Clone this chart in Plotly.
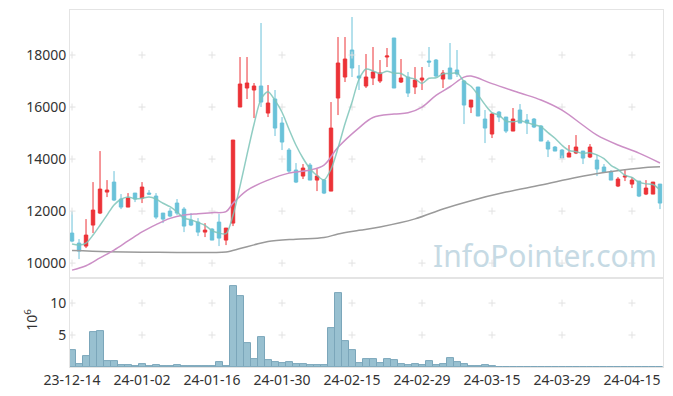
import plotly.graph_objects as go

dates = ["23-12-14","23-12-15","23-12-18","23-12-19","23-12-20","23-12-21","23-12-22","23-12-26","23-12-27","23-12-28",
"24-01-02","24-01-03","24-01-04","24-01-05","24-01-08","24-01-09","24-01-10","24-01-11","24-01-12","24-01-15",
"24-01-16","24-01-17","24-01-18","24-01-19","24-01-22","24-01-23","24-01-24","24-01-25","24-01-26","24-01-29",
"24-01-30","24-01-31","24-02-01","24-02-02","24-02-05","24-02-06","24-02-07","24-02-08","24-02-13","24-02-14",
"24-02-15","24-02-16","24-02-19","24-02-20","24-02-21","24-02-22","24-02-23","24-02-26","24-02-27","24-02-28",
"24-02-29","24-03-04","24-03-05","24-03-06","24-03-07","24-03-08","24-03-11","24-03-12","24-03-13","24-03-14",
"24-03-15","24-03-18","24-03-19","24-03-20","24-03-21","24-03-22","24-03-25","24-03-26","24-03-27","24-03-28",
"24-03-29","24-04-01","24-04-02","24-04-03","24-04-04","24-04-05","24-04-08","24-04-09","24-04-11","24-04-12",
"24-04-15","24-04-16","24-04-17","24-04-18","24-04-19"]

opens = [11154,10769,10654,11462,11923,12731,13115,12462,12154,12692,
12500,12692,12577,11923,12000,12308,12077,11654,11577,11192,
11308,11577,10885,11538,16000,16731,16654,16808,15769,16308,
15385,14346,13577,13346,13769,13192,13192,12769,16346,17154,
18192,17192,16808,17115,17000,17923,18654,16962,17154,16769,
17038,17769,17808,17077,17500,17423,17000,16000,16769,15538,
14962,15808,15615,15077,15885,15500,15538,15269,14654,14462,
14346,14077,14231,14308,14077,13962,13692,13500,12962,13308,
13038,13154,12654,12654,13038]

highs = [12000,10923,11692,13115,14308,13192,13538,12654,12692,12692,
13115,12808,12692,11923,12115,12462,12154,11923,11731,11538,
11346,11885,11346,14731,17923,17923,16923,19231,16846,16654,
15615,14423,13846,13808,13846,13615,13231,16192,18692,18692,
19462,17615,18038,18308,17808,18269,18654,17846,17346,17538,
17538,18308,17846,17423,18462,18192,17038,16269,16769,15885,
15769,15846,15615,15962,16115,15731,15577,15308,14731,14500,
14385,14538,14923,14308,14577,14154,13808,13577,13308,13577,
13308,13154,13192,13115,13038]

lows = [10800,10154,10577,11154,11885,12538,12385,12077,12154,12346,
12308,12615,11692,11538,11769,11846,11192,11423,11038,11000,
10885,10654,10692,11423,16000,16308,15577,16000,15615,14885,
14346,13462,13077,13231,13192,12769,12654,12769,15692,16962,
17154,16654,16731,16846,16923,17538,16731,16923,16385,16500,
16654,17538,17154,16731,17077,17154,15346,15769,15654,14615,
14808,15423,15000,15077,15385,14962,15192,14692,14077,14308,
14038,14077,14192,13808,14038,13346,13462,13192,12923,13154,
12885,12538,12615,12654,12077]

closes = [10846,10461,11077,12038,12846,12808,12423,12154,12500,12462,
12923,12654,11769,11692,11808,11923,11423,11462,11192,11269,
10885,10962,11346,14731,16885,16923,16808,16192,16154,15192,
14654,13538,13115,13654,13192,13346,12692,15192,17692,17846,
17500,17115,17154,17346,17308,17962,16731,17115,16538,17038,
17115,17731,17192,17308,17077,17269,16077,16269,15654,15192,
15731,15615,15077,15538,15385,15385,15231,14692,14385,14308,
14038,14231,14462,14038,14462,13615,13500,13192,13231,13346,
13192,12577,12885,13115,12308]

ma5 = [10731,10692,10769,11077,11454,11846,12238,12454,12546,12469,
12492,12539,12462,12300,12169,11969,11723,11662,11562,11454,
11246,11154,11131,11839,12962,14169,15339,16308,16592,16254,
15800,15146,14531,14031,13631,13369,13200,13615,14423,15354,
16184,17069,17461,17392,17285,17377,17300,17292,17131,17077,
16907,17107,17123,17277,17285,17315,16985,16800,16469,16092,
15785,15692,15454,15431,15469,15400,15323,15246,15016,14800,
14531,14331,14285,14215,14246,14162,14015,13761,13600,13377,
13292,13108,13046,13023,12815]

ma20_idx = [0,2,4,6,8,10,12,14,16,18,20,22,23,25,28,31,34,36,38,41,43,46,48,50,52,54,56,57,60,64,67,70,73,75,78,81,84]
ma20_val = [9730,9900,10200,10500,10850,11200,11480,11720,11850,11900,11940,11980,12300,12800,13190,13460,13580,13770,
            14450,15200,15600,15730,15780,16000,16450,16780,17150,17190,16900,16540,16270,15880,15300,14920,14540,14230,13850]

ma_long_idx = [0,5,10,15,20,22,24,26,28,32,36,38,41,44,49,53,57,62,67,72,76,81,84]
ma_long_val = [10480,10440,10420,10410,10410,10430,10560,10700,10830,10920,10980,11120,11260,11390,11700,12080,
               12400,12730,13000,13290,13480,13650,13700]

volume = [2.66,0.42,1.72,5.42,5.57,0.94,0.94,0.26,0.26,0.10,
0.42,0.10,0.26,0.10,0.10,0.26,0.10,0.10,0.10,0.10,
0.10,0.73,0.10,12.66,11.1,3.70,1.20,4.64,1.09,0.73,
0.57,0.73,0.42,0.42,0.26,0.26,0.26,6.04,11.5,4.06,
2.66,0.57,1.20,1.20,0.57,1.20,1.09,0.42,0.26,0.42,
0.26,0.94,0.26,0.42,1.35,0.73,0.42,0.10,0.10,0.26,
0.10,0.0,0.0,0.05,0.05,0.05,0.0,0.05,0.05,0.05,
0.05,0.0,0.05,0.0,0.05,0.05,0.0,0.0,0.0,0.0,
0.0,0.05,0.0,0.0,0.05]

price_ticks = [10000, 12000, 14000, 16000, 18000]
vol_ticks = [5, 10]
tick_idx = list(range(0, 85, 10))

RED = "#ec3237"
BLUE = "#6ac2d9"
FONT = "Noto Sans"
TXT = "#333333"

fig = go.Figure()

cross = dict(symbol="cross-thin", size=5, line=dict(color="#e2e2e2", width=1))
gx = [dates[i] for i in tick_idx for _ in price_ticks]
gy = [p for _ in tick_idx for p in price_ticks]
fig.add_trace(go.Scatter(x=gx, y=gy, mode="markers", xaxis="x", yaxis="y", hoverinfo="skip",
                         marker=cross, showlegend=False))
gx2 = [dates[i] for i in tick_idx for _ in vol_ticks]
gy2 = [v for _ in tick_idx for v in vol_ticks]
fig.add_trace(go.Scatter(x=gx2, y=gy2, mode="markers", xaxis="x2", yaxis="y2", hoverinfo="skip",
                         marker=cross, showlegend=False))

fig.add_trace(go.Candlestick(
    x=dates, open=opens, high=highs, low=lows, close=closes,
    increasing=dict(line=dict(color=RED, width=1), fillcolor=RED),
    decreasing=dict(line=dict(color=BLUE, width=1), fillcolor=BLUE),
    xaxis="x", yaxis="y", showlegend=False))

fig.add_trace(go.Scatter(x=[dates[i] for i in ma_long_idx], y=ma_long_val, mode="lines",
                         line=dict(color="#9a9a9a", width=1.5, shape="spline"),
                         xaxis="x", yaxis="y", showlegend=False))
fig.add_trace(go.Scatter(x=[dates[i] for i in ma20_idx], y=ma20_val, mode="lines",
                         line=dict(color="#cc8fc6", width=1.5, shape="spline"),
                         xaxis="x", yaxis="y", showlegend=False))
fig.add_trace(go.Scatter(x=dates, y=ma5, mode="lines",
                         line=dict(color="rgba(125,196,184,0.85)", width=1.5, shape="spline", smoothing=0.8),
                         xaxis="x", yaxis="y", showlegend=False))

fig.add_trace(go.Bar(x=dates, y=volume, xaxis="x2", yaxis="y2",
                     marker=dict(color="#98c0d0", line=dict(color="#7ba6ba", width=1)),
                     showlegend=False))

axis_line = dict(showline=True, mirror=True, linecolor="#e4e4e4", linewidth=1, zeroline=False,
                 showgrid=False, automargin=False)
xr = [-0.29, 84.43]

fig.update_layout(
    width=665, height=388,
    margin=dict(l=62, r=10, t=2, b=29, autoexpand=False),
    paper_bgcolor="white", plot_bgcolor="white",
    font=dict(family=FONT, size=14, color=TXT),
    bargap=0,
    showlegend=False,
    xaxis=dict(type="category", categoryorder="array", categoryarray=dates,
               domain=[0, 1], anchor="y", range=xr, showticklabels=False,
               rangeslider=dict(visible=False), ticks="", **axis_line),
    xaxis2=dict(type="category", categoryorder="array", categoryarray=dates,
                domain=[0, 1], anchor="y2", range=xr,
                tickvals=[dates[i] for i in tick_idx], ticktext=[dates[i] for i in tick_idx],
                tickangle=0, ticks="", tickfont=dict(size=14, color=TXT), **axis_line),
    yaxis=dict(domain=[0.249, 1], range=[9423, 19731], tickvals=price_ticks,
               ticktext=[str(t) for t in price_ticks], ticks="", **axis_line),
    yaxis2=dict(domain=[0, 0.249], range=[0, 13.9], tickvals=vol_ticks,
                ticktext=[str(t) for t in vol_ticks], ticks="", **axis_line),
    annotations=[
        dict(text="InfoPointer.com", xref="paper", yref="paper", x=0.993, y=0.311,
             xanchor="right", yanchor="middle", showarrow=False,
             font=dict(family=FONT, size=30, color="#c6dae4")),
        dict(text="10<sup>6</sup>", xref="paper", yref="paper", x=-0.066, y=0.132,
             xanchor="center", yanchor="middle", showarrow=False, textangle=-90,
             font=dict(family=FONT, size=14, color=TXT)),
    ],
)

fig.write_html("out.html")
